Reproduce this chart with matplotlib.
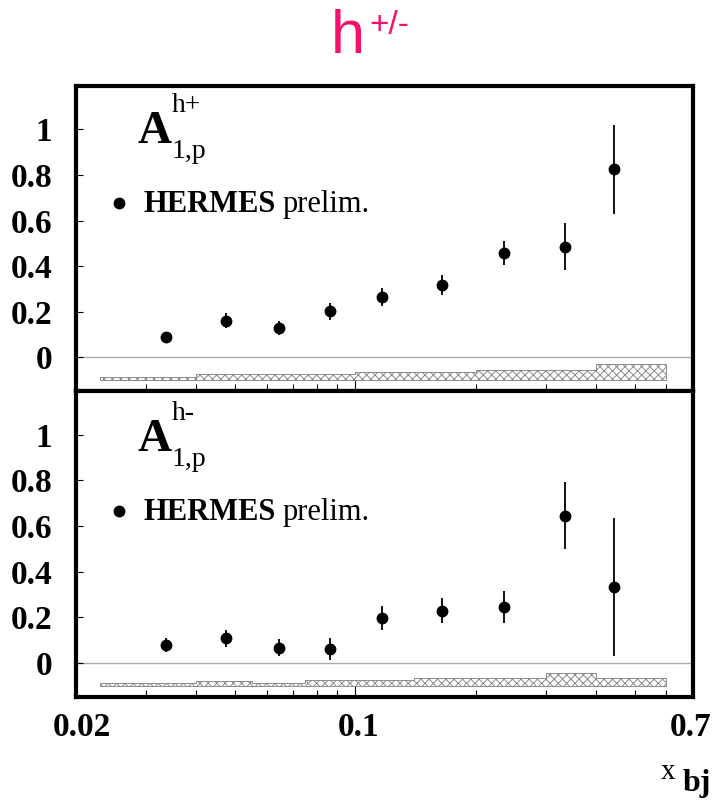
import numpy as np
import matplotlib
matplotlib.use("Agg")
import matplotlib.pyplot as plt
import matplotlib.transforms as mtransforms

W, H = 716, 805
SERIF = "Liberation Serif"

# data
x_bj = [0.0335, 0.0475, 0.0643, 0.0866, 0.1167, 0.1646, 0.236, 0.335, 0.443]
a1_hplus = [0.088, 0.161, 0.128, 0.202, 0.263, 0.318, 0.459, 0.485, 0.824]
err_hplus = [0.020, 0.033, 0.031, 0.037, 0.039, 0.045, 0.053, 0.103, 0.194]
a1_hminus = [0.078, 0.108, 0.067, 0.061, 0.196, 0.228, 0.245, 0.646, 0.331]
err_hminus = [0.031, 0.037, 0.037, 0.048, 0.051, 0.055, 0.070, 0.147, 0.303]

# systematic bands (bin edges + band heights above the base at -0.1)
bin_edges = [0.023, 0.04, 0.055, 0.075, 0.1, 0.14, 0.2, 0.3, 0.4, 0.6]
syst_hplus = [0.012, 0.026, 0.026, 0.026, 0.035, 0.035, 0.045, 0.045, 0.071]
syst_hminus = [0.013, 0.022, 0.013, 0.026, 0.026, 0.032, 0.032, 0.055, 0.035]
syst_base = -0.10

y_ticks = [0, 0.2, 0.4, 0.6, 0.8, 1]
y_ticklabels = ["0", "0.2", "0.4", "0.6", "0.8", "1"]
x_ticks = [0.02, 0.1, 0.7]
x_ticklabels = ["0.02", "0.1", "0.7"]

plt.rcParams["hatch.linewidth"] = 0.7


def fpos(x, y):
    """pixel position (from top-left) -> figure fraction"""
    return x / W, 1 - y / H


def draw_panel(ax, y, yerr, syst, sup, dy):
    ax.set_xscale("log")
    ax.set_xlim(0.02, 0.7)
    ax.set_ylim(-0.15, 1.19)
    ax.axhline(0, color="#aaaaaa", lw=1.0, zorder=1)

    tops = [syst_base + s for s in syst]
    ax.fill_between(bin_edges, syst_base, tops + [tops[-1]], step="post",
                    facecolor="white", edgecolor="#8c8c8c", hatch="xxxx",
                    lw=0.7, zorder=2)

    ax.errorbar(x_bj, y, yerr=yerr, fmt="o", color="black", ms=7.5,
                elinewidth=1.3, capsize=0, zorder=3)

    for s in ax.spines.values():
        s.set_linewidth(3)
    ax.set_yticks(y_ticks)
    ax.set_yticklabels(y_ticklabels)
    ax.tick_params(axis="y", direction="in", length=5, width=0.8, pad=17,
                   labelsize=24, right=False)
    ax.tick_params(axis="x", which="major", direction="in", length=9,
                   width=0.8, top=False, pad=11)
    ax.tick_params(axis="x", which="minor", direction="in", length=5,
                   width=0.8, top=False)
    for lab in ax.get_yticklabels():
        lab.set_fontfamily(SERIF)
        lab.set_fontweight("bold")

    # A_{1,p}^{h+/-} label
    fig.text(*fpos(138, 143 + dy), "A", fontsize=34, fontweight="bold",
             family=SERIF, va="baseline")
    fig.text(*fpos(172, 112 + dy), sup, fontsize=20, family=SERIF,
             va="baseline")
    fig.text(*fpos(172, 158 + dy), "1,p", fontsize=20, family=SERIF,
             va="baseline")

    # legend entry
    ax.plot(*fpos(119, 203 + dy), "o", color="black", ms=7.5,
            transform=fig.transFigure, clip_on=False)
    fig.text(*fpos(143, 212 + dy), "HERMES", fontsize=22, fontweight="bold",
             family=SERIF, va="baseline")
    fig.text(*fpos(283, 212 + dy), "prelim.", fontsize=22, family=SERIF,
             va="baseline")


fig = plt.figure(figsize=(W / 100, H / 100), dpi=100)
left = 76 / W
width = (693 - 76) / W
ax1 = fig.add_axes([left, 1 - 391.5 / H, width, 305.5 / H])
ax2 = fig.add_axes([left, 1 - 697 / H, width, 305.5 / H])

draw_panel(ax1, a1_hplus, err_hplus, syst_hplus, "h+", 0)
draw_panel(ax2, a1_hminus, err_hminus, syst_hminus, "h-", 308)

ax1.tick_params(axis="x", labelbottom=False)
ax2.set_xticks(x_ticks)
ax2.set_xticklabels(x_ticklabels)
ax2.xaxis.set_minor_formatter(matplotlib.ticker.NullFormatter())
label_shift = [6, 3, -2]
for lab, dx in zip(ax2.get_xticklabels(), label_shift):
    lab.set_fontfamily(SERIF)
    lab.set_fontweight("bold")
    lab.set_fontsize(24)
    shift = mtransforms.ScaledTranslation(dx / 100, 0, fig.dpi_scale_trans)
    lab.set_transform(lab.get_transform() + shift)

# x axis title
fig.text(*fpos(661, 779), "x", fontsize=21, family=SERIF, va="baseline")
fig.text(*fpos(683, 791), "bj", fontsize=23, fontweight="bold",
         family=SERIF, va="baseline")

# page title
pink = "#f5106c"
fig.text(*fpos(331, 53), "h", fontsize=44, color=pink,
         family="Liberation Sans", va="baseline")
fig.text(*fpos(369, 34), "+/-", fontsize=24, color=pink,
         family="Liberation Sans", va="baseline")

fig.savefig("out.png", dpi=100)
